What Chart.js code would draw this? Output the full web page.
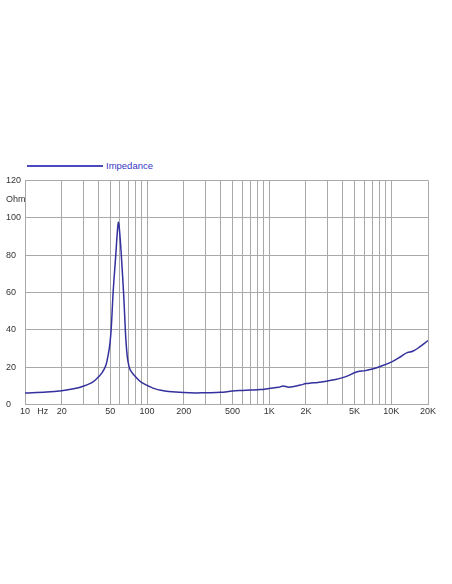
<!DOCTYPE html>
<html>
<head>
<meta charset="utf-8">
<script src="https://cdn.jsdelivr.net/npm/chart.js@4/dist/chart.umd.min.js"></script>
<style>
    html, body { margin: 0; padding: 0; background: #fff; }
    body { width: 452px; height: 584px; position: relative; overflow: hidden; font-family: "Liberation Sans", Arial, sans-serif; }
    #legend { position: absolute; left: 27px; top: 159px; height: 14px; }
    #legend .swatch { position: absolute; left: 0; top: 6px; width: 76px; height: 1.5px; background: #4b4bbf; }
    #legend .label { position: absolute; left: 79px; top: 0; font-size: 9.5px; line-height: 14px; color: #3636c6; white-space: nowrap; }
    #wrap { position: absolute; left: 0; top: 170px; width: 452px; height: 250px; }
</style>
</head>
<body>
<div id="legend"><div class="swatch"></div><span class="label">Impedance</span></div>
<div id="wrap"><canvas id="chart"></canvas></div>
<script>
// impedance curve (Hz, Ohm)
const freqs = [10, 15, 20, 25, 30, 35, 37.5, 40, 43, 46, 48, 49.7, 51, 52.7, 55.4, 57, 58.2, 59.5, 61.5, 64.4, 65.8, 67, 68.5, 69.8, 72, 75, 80, 88, 96, 105, 115, 130, 150, 200, 250, 300, 400, 500, 600, 700, 850, 1000, 1200, 1300, 1450, 1800, 2000, 2200, 2500, 3000, 3500, 4000, 4500, 5000, 5500, 6000, 7000, 8000, 10000, 12000, 13500, 15000, 17000, 20000];
const impedance = [6.2, 6.7, 7.4, 8.4, 9.8, 11.6, 13, 14.8, 17.2, 21, 26.5, 33, 42, 60, 80, 92, 97.6, 93, 80, 58, 45, 35, 27, 23, 19.3, 17.2, 15, 12.3, 10.8, 9.6, 8.5, 7.6, 7.0, 6.4, 6.2, 6.3, 6.5, 7.2, 7.5, 7.7, 8.0, 8.6, 9.2, 9.9, 9.3, 10.4, 11.2, 11.5, 11.8, 12.6, 13.4, 14.4, 15.6, 17.0, 17.8, 18.0, 19.0, 20.2, 22.7, 25.7, 27.8, 28.5, 30.7, 34.2];

// axis ticks
const xGrid = [10, 20, 30, 40, 50, 60, 70, 80, 90, 100, 200, 300, 400, 500, 600, 700, 800, 900,
    1000, 2000, 3000, 4000, 5000, 6000, 7000, 8000, 9000, 10000, 20000];
const xLabels = { 10: "10", 14: "Hz", 20: "20", 50: "50", 100: "100", 200: "200", 500: "500",
    1000: "1K", 2000: "2K", 5000: "5K", 10000: "10K", 20000: "20K" };
const yTicks = [0, 20, 40, 60, 80, 100, 110, 120];
const yLabels = { 110: "Ohm" };

const gridColor = "#a9a9a9";
const tickFont = { family: "'Liberation Sans', Arial, sans-serif", size: 9 };

new Chart(document.getElementById("chart"), {
    type: "line",
    data: {
        datasets: [{
            label: "Impedance",
            data: freqs.map((f, i) => ({ x: f, y: impedance[i] })),
            borderColor: "#34309e",
            borderWidth: 1.5,
            pointRadius: 0,
            fill: false,
            tension: 0.35
        }]
    },
    options: {
        responsive: true,
        maintainAspectRatio: false,
        animation: false,
        layout: { padding: { left: 6, right: 24, top: 7.5, bottom: 0 } },
        plugins: { legend: { display: false }, tooltip: { enabled: false } },
        scales: {
            x: {
                type: "logarithmic",
                min: 10,
                max: 20000,
                afterBuildTicks: (s) => {
                    s.ticks = xGrid.concat([14]).sort((a, b) => a - b).map(v => ({ value: v }));
                },
                afterFit: (s) => { s.height = 15.5; },
                ticks: {
                    autoSkip: false,
                    maxRotation: 0,
                    padding: 2,
                    color: "#333",
                    font: tickFont,
                    callback: (v) => xLabels[v] ?? ""
                },
                grid: {
                    drawTicks: false,
                    color: (ctx) => (ctx.tick && ctx.tick.value === 14) ? "rgba(0,0,0,0)" : gridColor
                },
                border: { color: gridColor }
            },
            y: {
                min: 0,
                max: 120,
                afterBuildTicks: (s) => { s.ticks = yTicks.map(v => ({ value: v })); },
                afterFit: (s) => { s.width = 19; },
                ticks: {
                    crossAlign: "far",
                    padding: 5,
                    color: "#333",
                    font: tickFont,
                    callback: (v) => yLabels[v] ?? String(v)
                },
                grid: {
                    drawTicks: false,
                    color: (ctx) => (ctx.tick && ctx.tick.value === 110) ? "rgba(0,0,0,0)" : gridColor
                },
                border: { color: gridColor }
            }
        }
    }
});
</script>
</body>
</html>
